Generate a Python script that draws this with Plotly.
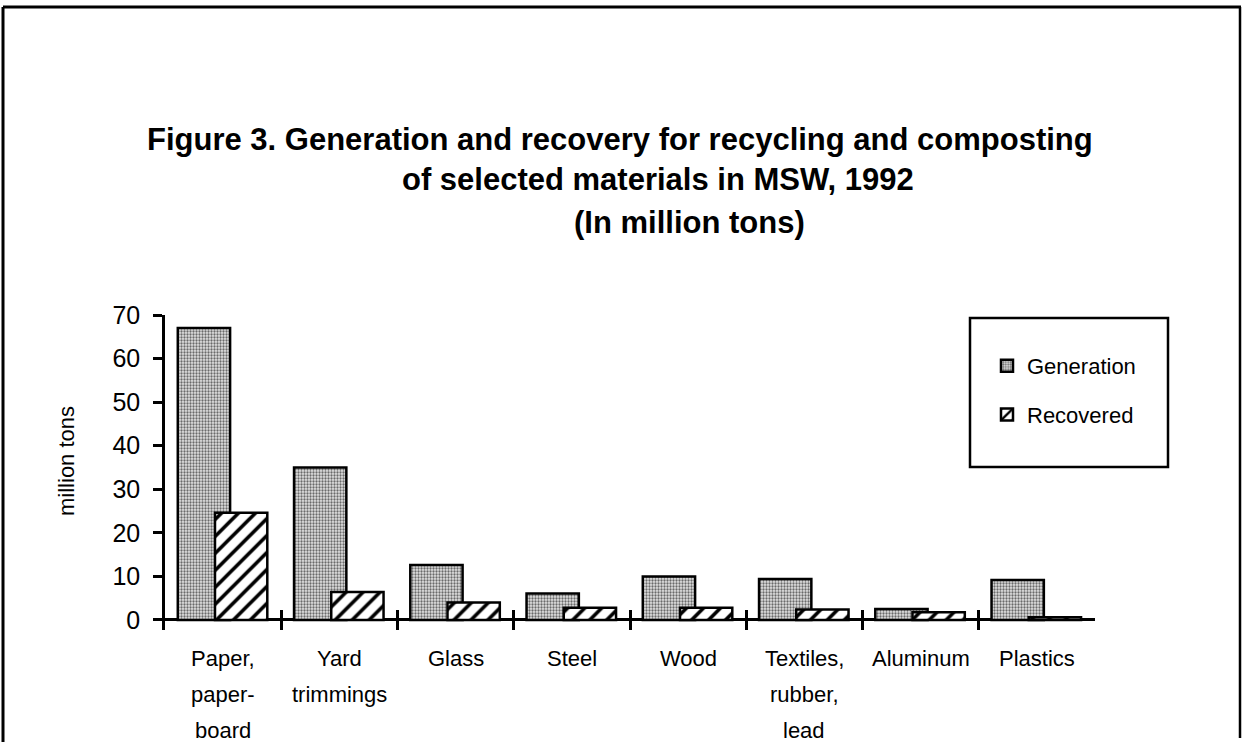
import plotly.graph_objects as go

categories = ["Paper,<br>paper-<br>board", "Yard<br>trimmings", "Glass", "Steel",
              "Wood", "Textiles,<br>rubber,<br>lead", "Aluminum", "Plastics"]
generation = [67.0, 35.0, 12.6, 6.1, 10.0, 9.4, 2.5, 9.2]
recovered = [24.6, 6.4, 4.0, 2.8, 2.8, 2.4, 1.8, 0.6]
y_ticks = [0, 10, 20, 30, 40, 50, 60, 70]

title_lines = [
    "Figure 3. Generation and recovery for recycling and composting",
    "of selected materials in MSW, 1992",
    "(In million tons)",
]

W, H = 1244, 742
L, R, T, B = 165, 1095, 315, 630
FONT = "Liberation Sans, Arial, Helvetica, sans-serif"


def px_x(x):
    return (x - L) / (R - L)


def px_y(y):
    return (B - y) / (B - T)


fig = go.Figure()
fig.add_trace(go.Bar(
    x=categories, y=generation, name="Generation", legendgroup="g",
    offset=-0.39, width=0.45,
    marker=dict(color="#bdbdbd", line=dict(color="black", width=2.5),
                pattern=dict(shape=".", bgcolor="#e2e2e2", fgcolor="#6a6a6a",
                             size=3, solidity=0.45, fillmode="replace")),
))
fig.add_trace(go.Bar(
    x=categories, y=recovered, name="Recovered", legendgroup="r",
    offset=-0.07, width=0.45,
    marker=dict(color="white", line=dict(color="black", width=2.5),
                pattern=dict(shape="/", bgcolor="white", fgcolor="black",
                             size=12, solidity=0.3, fillmode="replace")),
))

annotations = []
# title lines, left anchored
for text, x0, yc in zip(title_lines, [145, 400, 572], [139, 179, 223]):
    annotations.append(dict(
        text="<b>%s</b>" % text, xref="paper", yref="paper",
        x=px_x(x0), y=px_y(yc), xanchor="left", yanchor="middle",
        showarrow=False, font=dict(family=FONT, size=31, color="black"),
    ))
# category labels, one annotation per line to get the wide line spacing
for cat in categories:
    for i, part in enumerate(cat.split("<br>")):
        annotations.append(dict(
            text=part, x=cat, xref="x", yref="paper", y=0,
            yshift=-(28 + 36 * i), xanchor="center", yanchor="middle",
            showarrow=False, font=dict(family=FONT, size=22, color="black"),
        ))
# y axis title
annotations.append(dict(
    text="million tons", xref="paper", yref="paper",
    x=px_x(66), y=px_y(461), textangle=-90, showarrow=False,
    xanchor="center", yanchor="middle",
    font=dict(family=FONT, size=22, color="black"),
))

shapes = [
    # legend box
    dict(type="rect", xref="paper", yref="paper",
         x0=px_x(970), x1=px_x(1168), y0=px_y(467), y1=px_y(318),
         line=dict(color="black", width=2.5)),
    # page frame
    dict(type="line", xref="paper", yref="paper",
         x0=px_x(3), x1=px_x(1241), y0=px_y(7), y1=px_y(7),
         line=dict(color="black", width=3)),
    dict(type="line", xref="paper", yref="paper",
         x0=px_x(3), x1=px_x(3), y0=px_y(7), y1=px_y(745),
         line=dict(color="black", width=3)),
    dict(type="line", xref="paper", yref="paper",
         x0=px_x(1240), x1=px_x(1240), y0=px_y(7), y1=px_y(738),
         line=dict(color="black", width=2.5)),
]

fig.update_layout(
    width=W, height=H,
    margin=dict(l=L, r=W - R, t=T, b=H - B, pad=0),
    paper_bgcolor="white", plot_bgcolor="white",
    barmode="overlay",
    font=dict(family=FONT, size=22, color="black"),
    showlegend=True,
    legend=dict(x=px_x(987), y=px_y(345), xanchor="left", yanchor="top",
                bgcolor="rgba(0,0,0,0)", borderwidth=0, tracegroupgap=17,
                font=dict(family=FONT, size=22, color="black")),
    annotations=annotations,
    shapes=shapes,
    xaxis=dict(
        type="category", categoryarray=categories, range=[-0.5, 7.5],
        showline=False, showgrid=False, zeroline=False,
        tickson="boundaries", ticks="inside", ticklen=20, tickwidth=2.5,
        tickcolor="black", showticklabels=False,
    ),
    yaxis=dict(
        range=[-2.3, 70], tickvals=y_ticks, showgrid=False,
        showline=True, linecolor="black", linewidth=2.5,
        zeroline=True, zerolinecolor="black", zerolinewidth=2.5,
        ticks="outside", ticklen=9, tickwidth=2.5, tickcolor="black",
        ticklabelstandoff=8,
        tickfont=dict(family=FONT, size=25, color="black"),
    ),
    yaxis2=dict(
        range=[-2.3, 70], tickvals=y_ticks, overlaying="y", anchor="x",
        side="left", showgrid=False, showline=False, zeroline=False,
        ticks="inside", ticklen=9, tickwidth=2.5, tickcolor="black",
        showticklabels=False,
    ),
)

# the page body has a default 8px margin; drop it so the figure sits at 0,0
fig.write_html("out.html", config={"displayModeBar": False},
               post_script="document.body.style.margin = '0';")
